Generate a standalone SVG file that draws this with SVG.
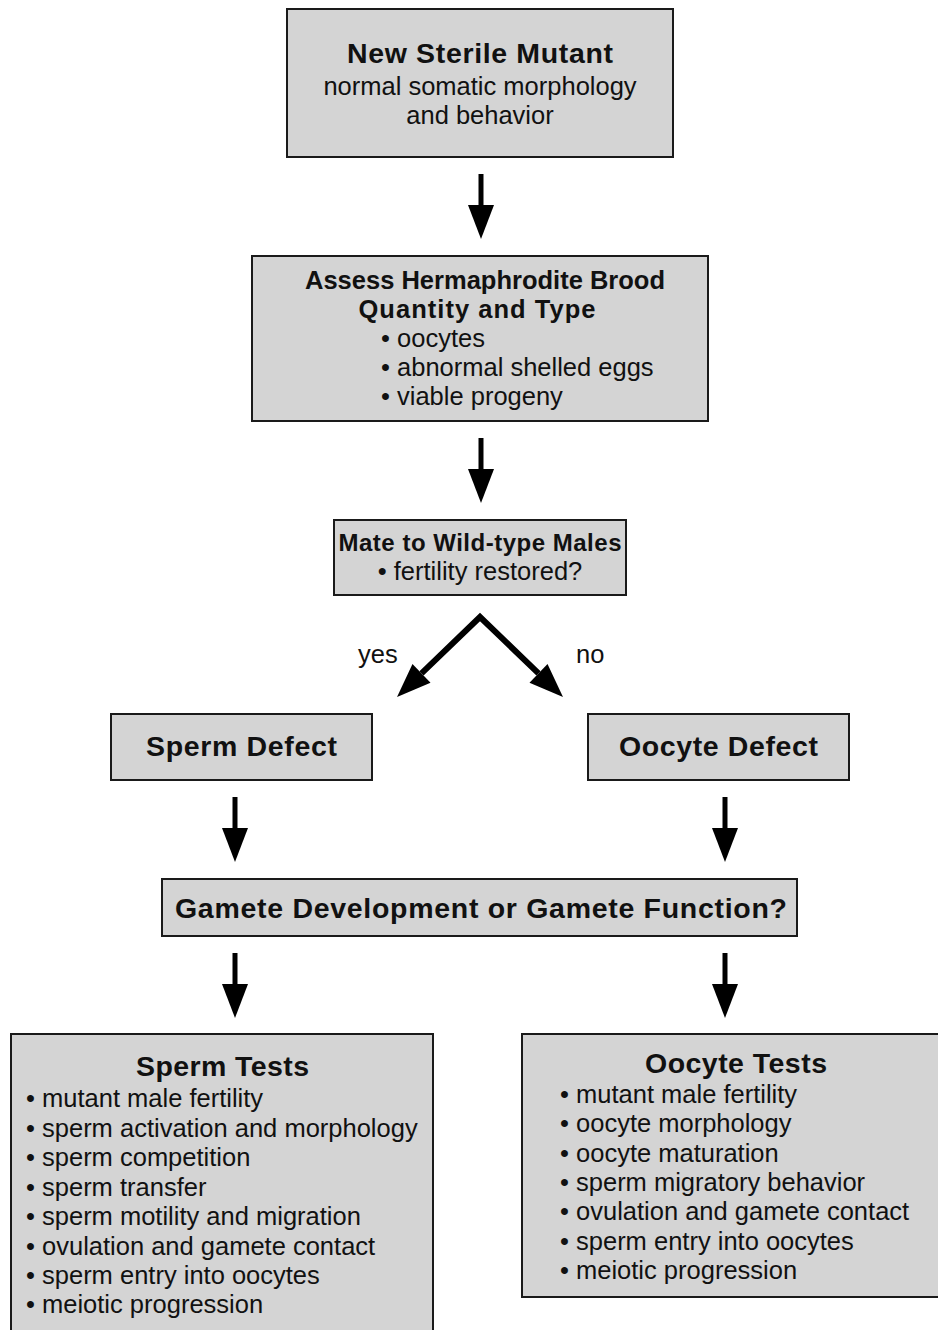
<svg xmlns="http://www.w3.org/2000/svg" width="938" height="1330" viewBox="0 0 938 1330">
<style>
.box{fill:#d4d4d4;stroke:#1a1a1a;stroke-width:2}
.t{font-family:"Liberation Sans",Arial,sans-serif;fill:#111}
.b{font-weight:bold}
.c{text-anchor:middle}
.r{font-size:25.5px}
.conn{stroke:#000;fill:none;stroke-width:5}
</style>
<defs>
<marker id="ah" viewBox="0 -13 34 26" markerWidth="34" markerHeight="26" refX="0" refY="0" orient="auto-start-reverse" markerUnits="userSpaceOnUse" overflow="visible">
<path d="M0,-13 L34,0 L0,13 z" fill="#000"/>
</marker>
</defs>
<rect width="938" height="1330" fill="#fff"/>
<g id="connectors">
<line class="conn" x1="481" y1="174" x2="481" y2="205" marker-end="url(#ah)"/>
<line class="conn" x1="481" y1="438" x2="481" y2="469" marker-end="url(#ah)"/>
<polyline class="conn" style="stroke-width:6;stroke-linejoin:miter" points="421.5,673.4 480,617 538.5,673.4" marker-start="url(#ah)" marker-end="url(#ah)"/>
<line class="conn" x1="235" y1="797" x2="235" y2="828" marker-end="url(#ah)"/>
<line class="conn" x1="725" y1="797" x2="725" y2="828" marker-end="url(#ah)"/>
<line class="conn" x1="235" y1="953" x2="235" y2="984" marker-end="url(#ah)"/>
<line class="conn" x1="725" y1="953" x2="725" y2="984" marker-end="url(#ah)"/>
<text class="t r" x="358" y="663">yes</text>
<text class="t r" x="576" y="663">no</text>
</g>
<g id="new-sterile-mutant">
<rect class="box" x="287" y="9" width="386" height="148"/>
<text class="t b c" x="480" y="63" font-size="28.5" textLength="266" lengthAdjust="spacing">New Sterile Mutant</text>
<text class="t r c" x="480" y="95">normal somatic morphology</text>
<text class="t r c" x="480" y="124">and behavior</text>
</g>
<g id="assess-brood">
<rect class="box" x="252" y="256" width="456" height="165"/>
<text class="t b c" x="485" y="289" font-size="25.5" textLength="360" lengthAdjust="spacing">Assess Hermaphrodite Brood</text>
<text class="t b c" x="477" y="318" font-size="25.5" textLength="237" lengthAdjust="spacing">Quantity and Type</text>
<text class="t r" x="381" y="347">• oocytes</text>
<text class="t r" x="381" y="376">• abnormal shelled eggs</text>
<text class="t r" x="381" y="405">• viable progeny</text>
</g>
<g id="mate-wild-type">
<rect class="box" x="334" y="520" width="292" height="75"/>
<text class="t b c" x="480" y="551" font-size="24" textLength="283" lengthAdjust="spacing">Mate to Wild-type Males</text>
<text class="t r c" x="480" y="580">• fertility restored?</text>
</g>
<g id="sperm-defect">
<rect class="box" x="111" y="714" width="261" height="66"/>
<text class="t b c" x="241.5" y="756" font-size="28.5" textLength="191" lengthAdjust="spacing">Sperm Defect</text>
</g>
<g id="oocyte-defect">
<rect class="box" x="588" y="714" width="261" height="66"/>
<text class="t b c" x="718.5" y="756" font-size="28.5" textLength="199" lengthAdjust="spacing">Oocyte Defect</text>
</g>
<g id="gamete-question">
<rect class="box" x="162" y="879" width="635" height="57"/>
<text class="t b c" x="481" y="918" font-size="28.5" textLength="612" lengthAdjust="spacing">Gamete Development or Gamete Function?</text>
</g>
<g id="sperm-tests">
<rect class="box" x="11" y="1034" width="422" height="310"/>
<text class="t b c" x="222.5" y="1076" font-size="28.5" textLength="173" lengthAdjust="spacing">Sperm Tests</text>
<text class="t r" x="26" y="1107">• mutant male fertility</text>
<text class="t r" x="26" y="1137">• sperm activation and morphology</text>
<text class="t r" x="26" y="1166">• sperm competition</text>
<text class="t r" x="26" y="1196">• sperm transfer</text>
<text class="t r" x="26" y="1225">• sperm motility and migration</text>
<text class="t r" x="26" y="1255">• ovulation and gamete contact</text>
<text class="t r" x="26" y="1284">• sperm entry into oocytes</text>
<text class="t r" x="26" y="1313">• meiotic progression</text>
</g>
<g id="oocyte-tests">
<rect class="box" x="522" y="1034" width="430" height="263"/>
<text class="t b c" x="736" y="1073" font-size="28.5" textLength="182" lengthAdjust="spacing">Oocyte Tests</text>
<text class="t r" x="560" y="1103">• mutant male fertility</text>
<text class="t r" x="560" y="1132">• oocyte morphology</text>
<text class="t r" x="560" y="1162">• oocyte maturation</text>
<text class="t r" x="560" y="1191">• sperm migratory behavior</text>
<text class="t r" x="560" y="1220">• ovulation and gamete contact</text>
<text class="t r" x="560" y="1250">• sperm entry into oocytes</text>
<text class="t r" x="560" y="1279">• meiotic progression</text>
</g>
</svg>
